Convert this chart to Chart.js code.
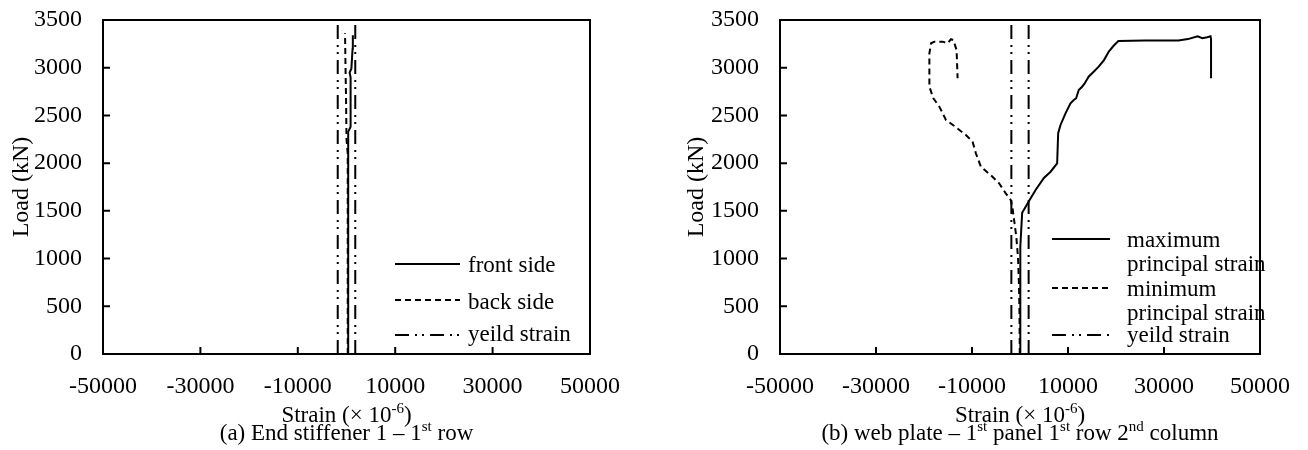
<!DOCTYPE html>
<html lang="en">
<head>
<meta charset="UTF-8">
<title>Load - strain curves</title>
<script src="https://cdn.jsdelivr.net/npm/chart.js"></script>
<style>
  body, html { margin: 0; padding: 0; background: #fff; }
  .wrap { position: absolute; top: 0; height: 450px; }
  #wrapA { left: 0; width: 675px; }
  #wrapB { left: 675px; width: 633px; }
</style>
</head>
<body>
<div class="wrap" id="wrapA"><canvas id="chartA" width="675" height="450"></canvas></div>
<div class="wrap" id="wrapB"><canvas id="chartB" width="633" height="450"></canvas></div>
<script>
// axes (strain in 10^-6, load in kN)
const xTicks = [-50000, -30000, -10000, 10000, 30000, 50000];
const yTicks = [0, 500, 1000, 1500, 2000, 2500, 3000, 3500];
const yieldStrain = [-1800, 1800];
const yieldLoad = [0, 3500];

// (a) end stiffener 1 - 1st row
const frontStrain = [350, 350, 350, 350, 840, 840, 640, 1000, 1250, 1300];
const frontLoad   = [0, 1000, 2000, 2330, 2380, 2900, 2950, 2990, 3200, 3340];
const backStrain  = [250, 250, 0, -100, -200, -300];
const backLoad    = [0, 2100, 2250, 2700, 3000, 3360];

// (b) web plate - 1st panel 1st row 2nd column
const maxStrain = [70, 70, 60, 70, 450, 2000, 3250, 4980, 6370, 7740, 7950, 8440, 9480, 10520, 11200, 11700,
                   12240, 12930, 13400, 14300, 15350, 16390, 17500, 18500, 19500, 20500, 26000, 33000, 35000,
                   37000, 38000, 39000, 39700, 39800, 39800];
const maxLoad   = [0, 500, 1000, 1124, 1480, 1614, 1719, 1844, 1910, 1998, 2313, 2400, 2522, 2627, 2662, 2680,
                   2767, 2801, 2830, 2906, 2958, 3011, 3080, 3170, 3230, 3280, 3285, 3285, 3300,
                   3330, 3310, 3320, 3330, 3300, 2890];
const minStrain = [-50, -100, -200, -400, -770, -1600, -1930, -2970, -4360, -5740, -8150, -9190, -9880, -11270,
                   -13690, -15420, -16800, -18050, -18880, -18880, -18530, -17840, -16120, -15080, -14380,
                   -13900, -13210, -13000];
const minLoad   = [0, 400, 700, 1000, 1229, 1544, 1614, 1684, 1789, 1858, 1963, 2103, 2225, 2295,
                   2389, 2452, 2592, 2679, 2801, 3151, 3256, 3273, 3273, 3256, 3298,
                   3290, 3186, 2889];

const FONT = "'Liberation Serif', 'Times New Roman', serif";
const SOLID = [];
const DASH = [6, 4];
const DASHDOT = [14, 6, 2, 5, 2, 6];

function pts(xs, ys) { return xs.map((v, i) => ({ x: v, y: ys[i] })); }

function line(label, xs, ys, dash) {
  return {
    label: label,
    data: pts(xs, ys),
    borderColor: '#000',
    borderWidth: 2,
    borderDash: dash,
    pointRadius: 0,
    showLine: true,
    fill: false,
    tension: 0
  };
}

function yieldSets() {
  return yieldStrain.map((s, i) => line(i === 0 ? 'yeild strain' : '', [s, s], yieldLoad, DASHDOT));
}

function richText(ctx, parts, cx, y) {
  const big = '23px ' + FONT, small = '15px ' + FONT;
  let w = 0;
  parts.forEach(p => { ctx.font = p[1] ? small : big; w += ctx.measureText(p[0]).width; });
  let x = cx - w / 2;
  ctx.textBaseline = 'alphabetic';
  ctx.textAlign = 'left';
  parts.forEach(p => {
    ctx.font = p[1] ? small : big;
    ctx.fillText(p[0], x, p[1] ? y - 9 : y);
    x += ctx.measureText(p[0]).width;
  });
}

function makeFrame(cfg) {
  return {
    id: 'frame',
    afterDatasetsDraw(chart) {
      const { ctx, chartArea: a, scales: { x, y } } = chart;
      ctx.save();
      ctx.strokeStyle = '#000';
      ctx.fillStyle = '#000';
      ctx.lineWidth = 2;
      ctx.setLineDash([]);
      ctx.strokeRect(a.left, a.top, a.right - a.left, a.bottom - a.top);
      ctx.beginPath();
      xTicks.forEach(v => {
        const px = x.getPixelForValue(v);
        if (px > a.left + 2 && px < a.right - 2) { ctx.moveTo(px, a.bottom); ctx.lineTo(px, a.bottom - 7); }
      });
      yTicks.forEach(v => {
        const py = y.getPixelForValue(v);
        if (py > a.top + 2 && py < a.bottom - 2) { ctx.moveTo(a.left, py); ctx.lineTo(a.left + 7, py); }
      });
      ctx.stroke();

      // legend
      ctx.font = '23px ' + FONT;
      ctx.textBaseline = 'middle';
      ctx.textAlign = 'left';
      cfg.legend.forEach(it => {
        const ds = chart.data.datasets[it.ds];
        ctx.setLineDash(ds.borderDash);
        ctx.beginPath();
        ctx.moveTo(cfg.lx0, it.ly);
        ctx.lineTo(cfg.lx1, it.ly);
        ctx.stroke();
        ctx.setLineDash([]);
        ds.label.split('\n').forEach((t, i) => ctx.fillText(t, cfg.tx, it.ty + i * 23.5));
      });

      const cx = (a.left + a.right) / 2;
      richText(ctx, [['Strain (\u00d7 10', 0], ['-6', 1], [')', 0]], cx, cfg.titleY);
      richText(ctx, cfg.caption, cx, cfg.captionY);
      ctx.restore();
    }
  };
}

function makeChart(id, datasets, axisLeft, padRight, frameCfg) {
  return new Chart(document.getElementById(id), {
    type: 'scatter',
    data: { datasets: datasets },
    options: {
      responsive: false,
      animation: false,
      layout: { padding: { top: 20, right: padRight, bottom: 0, left: 0 } },
      plugins: { legend: { display: false }, tooltip: { enabled: false } },
      scales: {
        x: {
          type: 'linear', min: -50000, max: 50000,
          afterBuildTicks: s => { s.ticks = xTicks.map(v => ({ value: v })); },
          afterFit: s => { s.height = 96; },
          grid: { display: false, drawTicks: false },
          border: { display: false },
          ticks: { color: '#000', padding: 18, maxRotation: 0, autoSkip: false,
                   font: { family: FONT, size: 24 }, callback: v => String(v) }
        },
        y: {
          type: 'linear', min: 0, max: 3500,
          afterBuildTicks: s => { s.ticks = yTicks.map(v => ({ value: v })); },
          afterFit: s => { s.width = axisLeft; s.paddingTop = 0; s.paddingBottom = 0; },
          grid: { display: false, drawTicks: false },
          border: { display: false },
          ticks: { color: '#000', padding: 21, font: { family: FONT, size: 24 }, callback: v => String(v) },
          title: { display: true, text: 'Load (kN)', color: '#000',
                   font: { family: FONT, size: 24, lineHeight: 1 }, padding: { top: 10, bottom: 0 } }
        }
      }
    },
    plugins: [makeFrame(frameCfg)]
  });
}

makeChart('chartA', [
  line('front side', frontStrain, frontLoad, SOLID),
  line('back side', backStrain, backLoad, DASH),
  ...yieldSets()
], 103, 85, {
  lx0: 395, lx1: 460, tx: 468,
  legend: [{ ds: 0, ly: 264, ty: 266 }, { ds: 1, ly: 300, ty: 303 }, { ds: 2, ly: 335, ty: 335 }],
  titleY: 422, captionY: 440,
  caption: [['(a) End stiffener 1 \u2013 1', 0], ['st', 1], [' row', 0]]
});

makeChart('chartB', [
  line('maximum\nprincipal strain', maxStrain, maxLoad, SOLID),
  line('minimum\nprincipal strain', minStrain, minLoad, DASH),
  ...yieldSets()
], 105, 46, {
  lx0: 377, lx1: 435, tx: 452,
  legend: [{ ds: 0, ly: 239, ty: 241 }, { ds: 1, ly: 288, ty: 290 }, { ds: 2, ly: 335, ty: 336 }],
  titleY: 422, captionY: 440,
  caption: [['(b) web plate \u2013 1', 0], ['st', 1], [' panel 1', 0], ['st', 1], [' row 2', 0], ['nd', 1], [' column', 0]]
});
</script>
</body>
</html>
